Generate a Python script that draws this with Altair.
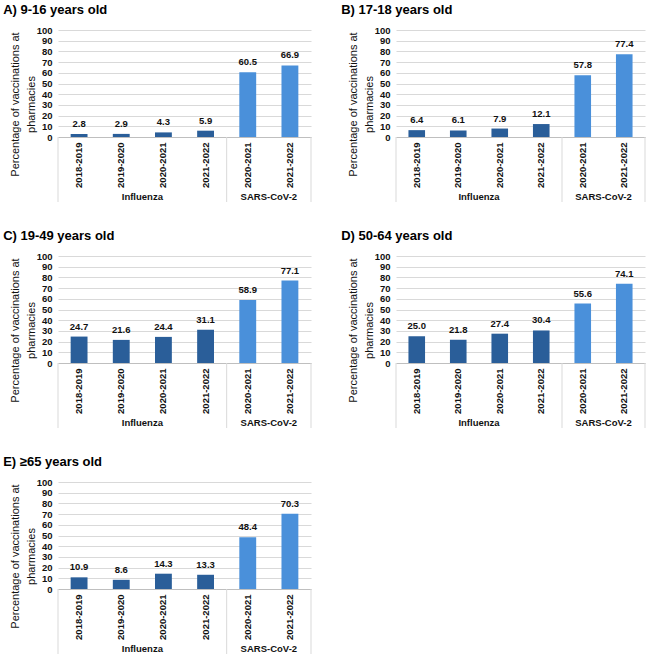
import altair as alt
import pandas as pd

panel_titles = ["A) 9-16 years old", "B) 17-18 years old", "C) 19-49 years old",
                "D) 50-64 years old", "E) \u226565 years old"]
flu_seasons = ["2018-2019", "2019-2020", "2020-2021", "2021-2022"]
cov_seasons = ["2020-2021", "2021-2022"]
flu_values = [
    [2.8, 2.9, 4.3, 5.9],
    [6.4, 6.1, 7.9, 12.1],
    [24.7, 21.6, 24.4, 31.1],
    [25.0, 21.8, 27.4, 30.4],
    [10.9, 8.6, 14.3, 13.3],
]
cov_values = [
    [60.5, 66.9],
    [57.8, 77.4],
    [58.9, 77.1],
    [55.6, 74.1],
    [48.4, 70.3],
]
groups = ["Influenza", "SARS-CoV-2"]
colors = ["#2A5E99", "#4A90DA"]
y_ticks = list(range(0, 101, 10))

FONT = "Liberation Sans"
H = 107
GRID = "#d9d9d9"


def panel(i, width):
    rows = []
    for s, v in zip(flu_seasons, flu_values[i]):
        rows.append({"key": f"Influenza|{s}", "group": "Influenza", "value": v})
    for s, v in zip(cov_seasons, cov_values[i]):
        rows.append({"key": f"SARS-CoV-2|{s}", "group": "SARS-CoV-2", "value": v})
    df = pd.DataFrame(rows)
    order = list(df["key"])
    n = len(order)

    counts = [len(flu_seasons), len(cov_seasons)]
    bounds = [0, counts[0], counts[0] + counts[1]]
    sep_df = pd.DataFrame({"pos": bounds})
    grp_df = pd.DataFrame({
        "group": groups,
        "center": [(bounds[0] + bounds[1]) / 2, (bounds[1] + bounds[2]) / 2],
    })

    xenc = alt.X("key:N", sort=order,
                 scale=alt.Scale(paddingInner=0.6, paddingOuter=0.3),
                 axis=alt.Axis(title=None, labelAngle=-90,
                               labelExpr="split(datum.label, '|')[1]",
                               labelFont=FONT, labelFontSize=9.5,
                               labelFontWeight="bold", labelColor="#111",
                               labelPadding=5, ticks=False, domainColor="#bfbfbf",
                               grid=False))
    yenc = alt.Y("value:Q", scale=alt.Scale(domain=[0, 100], nice=False),
                 axis=alt.Axis(title=["Percentage of vaccinations at", "pharmacies"],
                               titleFont=FONT, titleFontSize=11, titleFontWeight="normal",
                               titleColor="#111", titleLineHeight=16, titlePadding=0,
                               titleY=74,
                               values=y_ticks, labelFont=FONT, labelFontSize=9.5,
                               labelFontWeight="bold", labelColor="#111",
                               labelPadding=6, domain=False, ticks=False,
                               gridColor=GRID))

    base = alt.Chart(df).encode(x=xenc, y=yenc)
    bars = base.mark_bar().encode(
        color=alt.Color("group:N", scale=alt.Scale(domain=groups, range=colors), legend=None),
    )
    labels = base.mark_text(
        font=FONT, fontSize=9.5, fontWeight="bold", color="#111",
        baseline="bottom", dy=-5,
    ).encode(text=alt.Text("value:Q", format=".1f"))
    main = alt.layer(bars, labels)

    xq = alt.Scale(domain=[0, n], nice=False, zero=False)
    seps = alt.Chart(sep_df).mark_rule(color=GRID, strokeWidth=1).encode(
        x=alt.X("pos:Q", scale=xq, axis=None),
        y=alt.value(H), y2=alt.value(H + 65),
    )
    glabels = alt.Chart(grp_df).mark_text(
        font=FONT, fontSize=9.5, fontWeight="bold", color="#111", baseline="middle",
    ).encode(
        x=alt.X("center:Q", scale=xq, axis=None),
        y=alt.value(H + 60),
        text="group:N",
    )
    extra = alt.layer(seps, glabels)

    return alt.layer(main, extra).resolve_scale(x="independent").properties(
        width=width, height=H,
        title=alt.TitleParams(panel_titles[i], anchor="start", font=FONT, fontSize=13,
                              fontWeight="bold", color="#000", offset=8, dx=-6),
    )


row1 = alt.hconcat(panel(0, 253), panel(1, 249), spacing=29)
row2 = alt.hconcat(panel(2, 253), panel(3, 249), spacing=29)
row3 = alt.hconcat(panel(4, 253), spacing=29)

chart = alt.vconcat(row1, row2, row3, spacing=27).properties(
    padding={"left": 3, "top": 4, "right": 0, "bottom": 0},
    background="white",
).configure_view(stroke=None)

chart.save("out.html", embed_options={"renderer": "svg", "actions": False})
